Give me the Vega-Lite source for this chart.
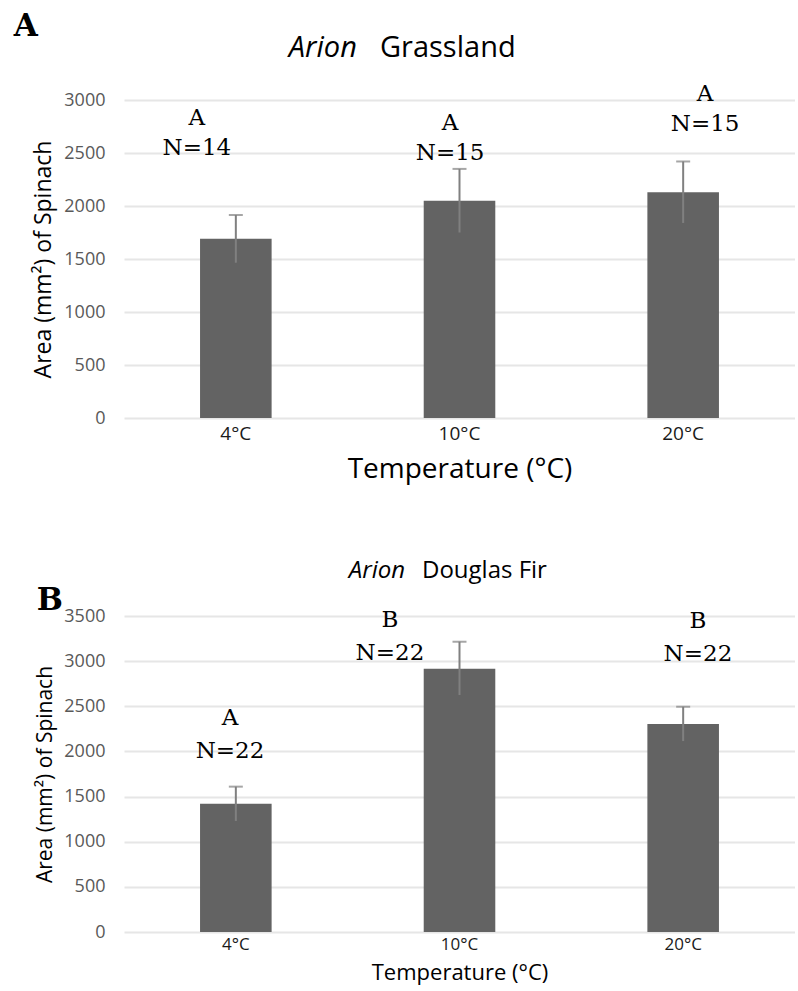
{
  "$schema": "https://vega.github.io/schema/vega-lite/v6.json",
  "background": "white",
  "padding": {"left": 13, "top": 10, "right": 0, "bottom": 4},
  "spacing": 76,
  "config": {
    "view": {"stroke": null},
    "title": {"color": "black", "fontWeight": "normal"},
    "axisX": {"labelAngle": 0, "domain": false, "ticks": false, "labelFont": "Open Sans", "labelFontSize": 19, "labelColor": "#1a1a1a", "labelPadding": 6, "titleFont": "Open Sans", "titleFontWeight": "normal", "titleColor": "black"},
    "axisY": {"domain": false, "ticks": false, "grid": true, "gridColor": "#e6e6e6", "gridWidth": 2, "format": "d", "labelFont": "Open Sans", "labelFontSize": 18, "labelColor": "#595959", "labelPadding": 19, "titleFont": "Open Sans", "titleFontWeight": "normal", "titleColor": "black", "titlePadding": 8}
  },
  "datasets": {
    "grass": [
      {"temp": "4°C", "mean": 1690, "lo": 1465, "hi": 1915, "letter": "A", "n": "N=14", "ly": 2548, "lx": 0.326},
      {"temp": "10°C", "mean": 2050, "lo": 1750, "hi": 2350, "letter": "A", "n": "N=15", "ly": 2501, "lx": 1.458},
      {"temp": "20°C", "mean": 2130, "lo": 1840, "hi": 2420, "letter": "A", "n": "N=15", "ly": 2774, "lx": 2.598}
    ],
    "fir": [
      {"temp": "4°C", "mean": 1420, "lo": 1230, "hi": 1610, "letter": "A", "n": "N=22", "ly": 2005, "lx": 0.474},
      {"temp": "10°C", "mean": 2915, "lo": 2625, "hi": 3215, "letter": "B", "n": "N=22", "ly": 3090, "lx": 1.189},
      {"temp": "20°C", "mean": 2305, "lo": 2115, "hi": 2495, "letter": "B", "n": "N=22", "ly": 3079, "lx": 2.566}
    ]
  },
  "vconcat": [
    {
      "title": {"text": "A", "anchor": "start", "frame": "bounds", "font": "DejaVu Serif", "fontWeight": "bold", "fontSize": 31, "dx": -19, "dy": 9, "offset": 0},
      "vconcat": [
        {
          "title": {"text": "Arion", "anchor": "start", "frame": "bounds", "font": "Open Sans", "fontStyle": "italic", "fontSize": 29, "dx": 256, "dy": 29, "offset": 0},
          "vconcat": [
            {
              "title": {"text": "Grassland", "anchor": "start", "frame": "group", "font": "Open Sans", "fontSize": 29, "dx": 256, "offset": 20},
              "width": 671,
              "height": 318,
              "data": {"name": "grass"},
              "resolve": {"scale": {"x": "independent"}},
              "layer": [
                {"layer": [
                  {"mark": {"type": "bar", "color": "#636363"},
                   "encoding": {"y": {"field": "mean", "type": "quantitative", "scale": {"domain": [0, 3000]}, "axis": {"values": [0, 500, 1000, 1500, 2000, 2500, 3000], "title": "Area (mm²) of Spinach", "titleFontSize": 23}}}},
                  {"mark": {"type": "rule", "color": "#808080", "strokeWidth": 2},
                   "encoding": {"y": {"field": "lo", "type": "quantitative"}, "y2": {"field": "hi"}}},
                  {"mark": {"type": "tick", "color": "#808080", "thickness": 2, "size": 14},
                   "encoding": {"y": {"field": "hi", "type": "quantitative"}}}
                 ],
                 "encoding": {"x": {"field": "temp", "type": "nominal", "sort": null, "scale": {"paddingInner": 0.68, "paddingOuter": 0.34}, "axis": {"title": "Temperature (°C)", "titleFontSize": 28, "titlePadding": 12}}}},
                {"layer": [
                  {"mark": {"type": "text", "font": "DejaVu Serif", "fontSize": 23, "baseline": "middle", "color": "black"},
                   "encoding": {"text": {"field": "n"}}},
                  {"mark": {"type": "text", "font": "DejaVu Serif", "fontSize": 23, "baseline": "middle", "color": "black", "dy": -30},
                   "encoding": {"text": {"field": "letter"}}}
                 ],
                 "encoding": {
                   "x": {"field": "lx", "type": "quantitative", "scale": {"domain": [0, 3], "nice": false, "zero": false}, "axis": null},
                   "y": {"field": "ly", "type": "quantitative"}}}
              ]
            }
          ]
        }
      ]
    },
    {
      "title": {"text": "B", "anchor": "start", "frame": "bounds", "font": "DejaVu Serif", "fontWeight": "bold", "fontSize": 31, "dx": 2, "dy": 58, "offset": 0},
      "vconcat": [
        {
          "title": {"text": "Arion", "anchor": "start", "frame": "bounds", "font": "Open Sans", "fontStyle": "italic", "fontSize": 24, "dx": 314, "dy": 24, "offset": 0},
          "vconcat": [
            {
              "title": {"text": "Douglas Fir", "anchor": "start", "frame": "group", "font": "Open Sans", "fontSize": 24, "dx": 298, "offset": 24},
              "width": 671,
              "height": 316,
              "data": {"name": "fir"},
              "resolve": {"scale": {"x": "independent"}},
              "layer": [
                {"layer": [
                  {"mark": {"type": "bar", "color": "#636363"},
                   "encoding": {"y": {"field": "mean", "type": "quantitative", "scale": {"domain": [0, 3500]}, "axis": {"values": [0, 500, 1000, 1500, 2000, 2500, 3000, 3500], "title": "Area (mm²) of Spinach", "titleFontSize": 21}}}},
                  {"mark": {"type": "rule", "color": "#808080", "strokeWidth": 2},
                   "encoding": {"y": {"field": "lo", "type": "quantitative"}, "y2": {"field": "hi"}}},
                  {"mark": {"type": "tick", "color": "#808080", "thickness": 2, "size": 14},
                   "encoding": {"y": {"field": "hi", "type": "quantitative"}}}
                 ],
                 "encoding": {"x": {"field": "temp", "type": "nominal", "sort": null, "scale": {"paddingInner": 0.68, "paddingOuter": 0.34}, "axis": {"title": "Temperature (°C)", "titleFontSize": 22, "titlePadding": 10, "labelFontSize": 17, "labelPadding": 4}}}},
                {"layer": [
                  {"mark": {"type": "text", "font": "DejaVu Serif", "fontSize": 23, "baseline": "middle", "color": "black"},
                   "encoding": {"text": {"field": "n"}}},
                  {"mark": {"type": "text", "font": "DejaVu Serif", "fontSize": 23, "baseline": "middle", "color": "black", "dy": -33},
                   "encoding": {"text": {"field": "letter"}}}
                 ],
                 "encoding": {
                   "x": {"field": "lx", "type": "quantitative", "scale": {"domain": [0, 3], "nice": false, "zero": false}, "axis": null},
                   "y": {"field": "ly", "type": "quantitative"}}}
              ]
            }
          ]
        }
      ]
    }
  ]
}
